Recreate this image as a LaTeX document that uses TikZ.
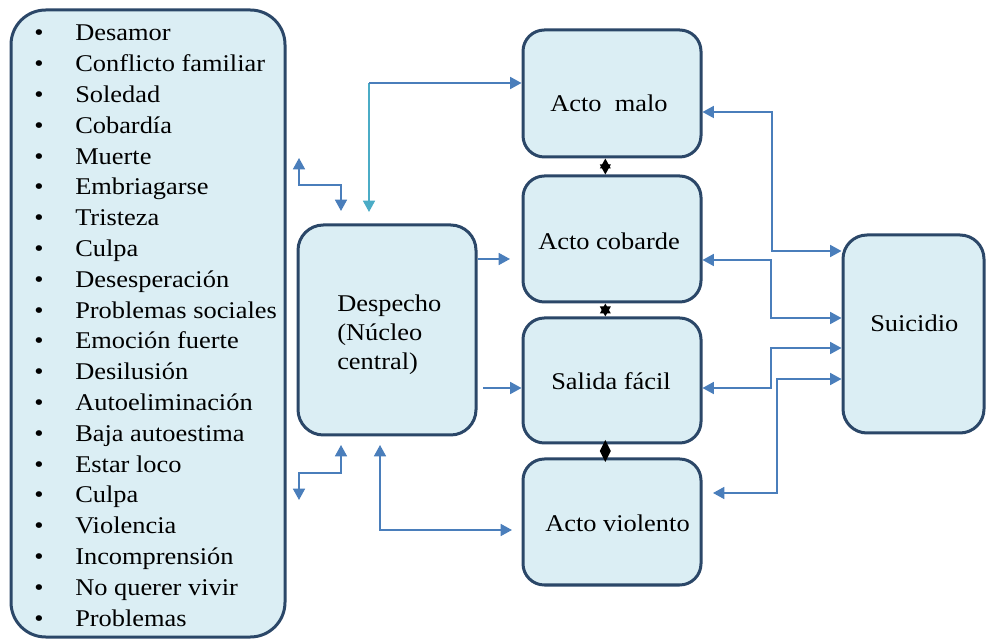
\documentclass[tikz,border=0pt]{standalone}
\usepackage{fontspec}
\setmainfont{Liberation Serif}[FakeStretch=1.1]
\usetikzlibrary{arrows.meta,calc}
\definecolor{boxfill}{HTML}{DBEEF4}
\definecolor{boxline}{HTML}{2B4768}
\definecolor{arrblue}{HTML}{4A7EBB}
\definecolor{arrcyan}{HTML}{4BACC6}
\tikzset{
  box/.style={draw=boxline, fill=boxfill, line width=2.25pt, inner sep=0pt},
  lbl/.style={anchor=base west, inner sep=0pt, font=\fontsize{18pt}{23pt}\selectfont},
  bul/.style={anchor=base, inner sep=0pt, font=\fontsize{18pt}{23pt}\selectfont},
  conn/.style={draw=arrblue, line width=1.2pt},
  >={Triangle[length=8.5pt,width=9pt]},
  blk/.style={draw=black, line width=1pt,
    {Triangle[length=7.5pt,width=8pt]}-{Triangle[length=7.5pt,width=8pt]}},
}
\begin{document}
\begin{tikzpicture}[x=0.75pt,y=-0.75pt]
\useasboundingbox (0,0) rectangle (986,641);

% boxes
\node[box, rounded corners=26pt, minimum width=205.5pt, minimum height=470.25pt] (list) at (148,323.5) {};
\node[box, rounded corners=19pt, minimum width=133.5pt, minimum height=157.5pt] (despecho) at (387,330) {};
\node[box, rounded corners=16pt, minimum width=133.5pt, minimum height=95.25pt] (malo) at (612,93.5) {};
\node[box, rounded corners=16pt, minimum width=133.5pt, minimum height=94.5pt] (cobarde) at (612,239) {};
\node[box, rounded corners=16pt, minimum width=133.5pt, minimum height=93.75pt] (salida) at (612,380.5) {};
\node[box, rounded corners=16pt, minimum width=133.5pt, minimum height=94.5pt] (violento) at (612,522) {};
\node[box, rounded corners=18pt, minimum width=105.75pt, minimum height=148.5pt] (suicidio) at (913.5,334) {};

% list
\foreach \t [count=\i from 0] in {Desamor, Conflicto familiar, Soledad, Cobardía, Muerte, Embriagarse, Tristeza, Culpa, Desesperación, Problemas sociales, Emoción fuerte, Desilusión, Autoeliminación, Baja autoestima, Estar loco, Culpa, Violencia, Incomprensión, No querer vivir, Problemas}{
  \node[bul] (bul\i) at (39,41+30.8*\i) {\textbullet};
  \node[lbl] (item\i) at (75,41+30.8*\i) {\t};
}

% box labels
\node[lbl] (tdesp1) at (337,312) {Despecho};
\node[lbl] (tdesp2) at (337,341) {(Núcleo};
\node[lbl] (tdesp3) at (337,370) {central)};
\node[lbl] (tmalo) at (550,112) {Acto\ \ malo};
\node[lbl] (tcob) at (538,250) {Acto cobarde};
\node[lbl] (tsal) at (551,390) {Salida fácil};
\node[lbl] (tvio) at (545,532) {Acto violento};
\node[lbl] (tsui) at (870,332) {Suicidio};

% black double arrows between action boxes
\draw[blk] ([xshift=-5pt]malo.south) -- ([xshift=-5pt]cobarde.north);
\draw[blk] ([xshift=-5pt]cobarde.south) -- ([xshift=-5pt]salida.north);
\coordinate (dm) at ($([xshift=-5pt]salida.south)!0.5!([xshift=-5pt]violento.north)$);
\fill[black] (dm) ++(0,-11) -- ++(5.5,11) -- ++(-5.5,11) -- ++(-5.5,-11) -- cycle;

% left connectors
\coordinate (k1) at (369,83);
\coordinate (t1) at (369,212);
\draw[conn, draw=arrcyan, ->, arrcyan] (k1) -- (t1);
\draw[conn, ->, arrblue] (k1) -- (k1 -| malo.west);

\coordinate (a2s) at (299,158);
\coordinate (a2e) at (341,211);
\draw[conn, <->, arrblue] (a2s) -- ++(0,27) -| (a2e);

\coordinate (a3s) at (341,445);
\coordinate (a3e) at (299,500);
\draw[conn, <->, arrblue] (a3s) -- ++(0,28) -| (a3e);

\coordinate (a4s) at (380,445);
\coordinate (a4e) at (512,530);
\draw[conn, <->, arrblue] (a4s) |- (a4e);

\coordinate (a5e) at (510,259);
\draw[conn, ->, arrblue] (despecho.east |- a5e) -- (a5e);

\coordinate (a6s) at (483,388);
\draw[conn, ->, arrblue] (a6s) -- (a6s -| salida.west);

% right connectors
\coordinate (b7a) at (772,112);
\coordinate (b7b) at (772,251);
\draw[conn, <->, arrblue] (b7a -| malo.east) -- (b7a) -- (b7b) -- (b7b -| suicidio.west);

\coordinate (b8a) at (771,260);
\coordinate (b8b) at (771,318);
\draw[conn, <->, arrblue] (b8a -| cobarde.east) -- (b8a) -- (b8b) -- (b8b -| suicidio.west);

\coordinate (b9a) at (771,388);
\coordinate (b9b) at (771,348);
\draw[conn, <->, arrblue] (b9a -| salida.east) -- (b9a) -- (b9b) -- (b9b -| suicidio.west);

\coordinate (b10s) at (713,493);
\coordinate (b10a) at (777,493);
\coordinate (b10b) at (777,379);
\draw[conn, <->, arrblue] (b10s) -- (b10a) -- (b10b) -- (b10b -| suicidio.west);
\end{tikzpicture}
\end{document}
